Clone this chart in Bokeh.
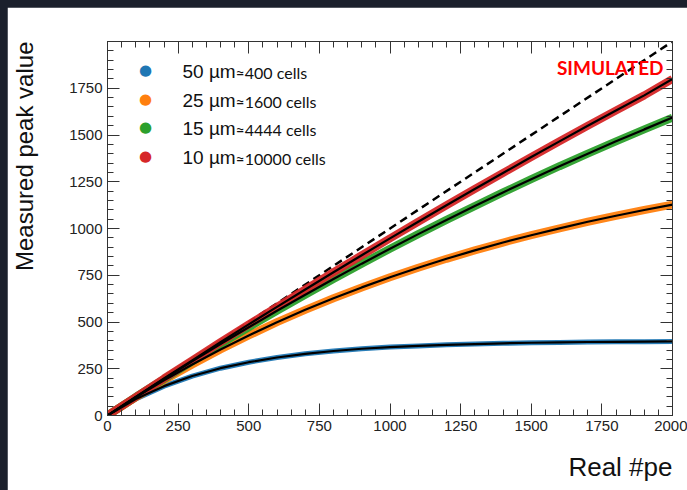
import math
from bokeh.plotting import figure
from bokeh.models import (Label, LinearAxis, SingleIntervalTicker, FixedTicker,
                          Range1d, Spacer, Title)
from bokeh.layouts import row, column
from bokeh.embed import file_html
from bokeh.resources import INLINE

# ---- data ----
pe = [0, 100, 200, 300, 400, 500, 600, 700, 800, 900, 1000,
      1100, 1200, 1300, 1400, 1500, 1600, 1700, 1800, 1900, 2000]
peak_50um = [0, 88, 157, 211, 253, 285, 310, 330, 345, 357, 366,
             372, 378, 382, 386, 389, 391, 393, 394, 395, 396]
peak_25um = [0, 97, 188, 273, 353, 428, 499, 565, 627, 685, 739,
             790, 838, 883, 925, 964, 1001, 1036, 1068, 1099, 1128]
peak_15um = [0, 99, 195, 290, 382, 472, 560, 646, 730, 812, 892,
             970, 1046, 1120, 1193, 1264, 1333, 1400, 1466, 1530, 1593]
peak_10um = [0, 99, 198, 295, 392, 487, 581, 674, 766, 857, 947,
             1036, 1124, 1211, 1297, 1382, 1466, 1549, 1631, 1712, 1800]
ideal_x = [0, 2000]
ideal_y = [0, 2000]

sizes = ["50 \u00b5m", "25 \u00b5m", "15 \u00b5m", "10 \u00b5m"]
cells = ["\u2248400 cells", "\u22481600 cells", "\u22484444 cells", "\u224810000 cells"]
colors = ["#1f77b4", "#ff7f0e", "#2ca02c", "#d62728"]
series = [peak_50um, peak_25um, peak_15um, peak_10um]

DARK = "#1b202c"

p = figure(width=680, height=483, output_backend="svg", toolbar_location=None,
           x_range=Range1d(0, 2000), y_range=Range1d(0, 2000),
           frame_width=565, frame_height=374,
           min_border_left=100, min_border_right=15,
           min_border_top=34, min_border_bottom=75,
           x_axis_type=None, y_axis_type=None)
p.background_fill_color = "white"
p.border_fill_color = "white"
p.outline_line_color = "#333333"
p.grid.visible = False

tick_font = "Liberation Sans"

def make_axis(show_labels):
    ax = LinearAxis(ticker=SingleIntervalTicker(interval=250, num_minor_ticks=5))
    ax.major_tick_in = 12
    ax.major_tick_out = 0
    ax.minor_tick_in = 6
    ax.minor_tick_out = 0
    ax.axis_line_color = "#333333"
    ax.major_tick_line_color = "#333333"
    ax.minor_tick_line_color = "#333333"
    ax.major_label_text_font = tick_font
    ax.major_label_text_font_size = "15px"
    ax.major_label_text_color = "#222222"
    ax.major_label_standoff = 5
    if not show_labels:
        ax.major_label_text_alpha = 0
        ax.major_label_text_font_size = "1px"
    return ax

def gap_axis(gap):
    # an invisible axis that only reserves space between the axis and its title
    ax = LinearAxis(ticker=FixedTicker(ticks=[1000], minor_ticks=[]))
    ax.major_tick_out = gap
    ax.major_tick_in = 0
    ax.minor_tick_out = 0
    ax.minor_tick_in = 0
    ax.major_label_standoff = 0
    ax.major_label_overrides = {1000: ""}
    ax.major_label_text_font_size = "1px"
    ax.axis_line_alpha = 0
    ax.major_tick_line_alpha = 0
    ax.minor_tick_line_alpha = 0
    return ax

xaxis = make_axis(True)
yaxis = make_axis(True)
yaxis.major_label_overrides = {2000: ""}
p.add_layout(xaxis, "below")
p.add_layout(yaxis, "left")
p.add_layout(make_axis(False), "above")
p.add_layout(make_axis(False), "right")
p.add_layout(gap_axis(16), "below")
p.add_layout(gap_axis(29), "left")

# axis titles as side-panel titles
p.add_layout(Title(text="Measured peak value", align="right",
                   text_font="Liberation Sans", text_font_size="24px",
                   text_font_style="normal", text_color="#111111",
                   standoff=0), "left")
p.add_layout(Title(text="Real #pe", align="right",
                   text_font="Liberation Sans", text_font_size="26px",
                   text_font_style="normal", text_color="#111111",
                   standoff=0), "below")

# ideal line
p.line(ideal_x, ideal_y, line_color="black", line_width=2.5, line_dash="8 5")

# bands and fits
for ys, c in zip(series, colors):
    w = 5 if c == "#1f77b4" else 8
    p.line(pe, ys, line_color=c, line_width=w, line_alpha=0.95)
for ys in series:
    p.line(pe, ys, line_color="black", line_width=2.2)

# legend
dot_y = [346, 317, 289, 260]
for i in range(4):
    p.add_layout(Label(x=38, y=dot_y[i], x_units="screen", y_units="screen",
                       text="\u25cf", text_color=colors[i], text_font="DejaVu Sans",
                       text_font_size="15px", text_align="center", text_baseline="middle"))
    p.add_layout(Label(x=75, y=dot_y[i] - 2, x_units="screen", y_units="screen",
                       text=sizes[i], text_color="#111111", text_font="Liberation Sans",
                       text_font_size="19px", text_align="left", text_baseline="alphabetic"))
    p.add_layout(Label(x=128, y=dot_y[i] - 3, x_units="screen", y_units="screen",
                       text=cells[i], text_color="#111111", text_font="Lato",
                       text_font_size="16px", text_align="left", text_baseline="alphabetic"))

p.add_layout(Label(x=556, y=348, x_units="screen", y_units="screen",
                   text="SIMULATED", text_color="#ff0000", text_font="Lato",
                   text_font_style="bold", text_font_size="19px",
                   text_align="right", text_baseline="alphabetic"))

top = Spacer(width=687, height=7, styles={"background-color": DARK})
left = Spacer(width=7, height=483, styles={"background-color": DARK})
layout = column(top, row(left, p, spacing=0), spacing=0,
                styles={"background-color": DARK})

open("out.html", "w").write(file_html(layout, INLINE))
